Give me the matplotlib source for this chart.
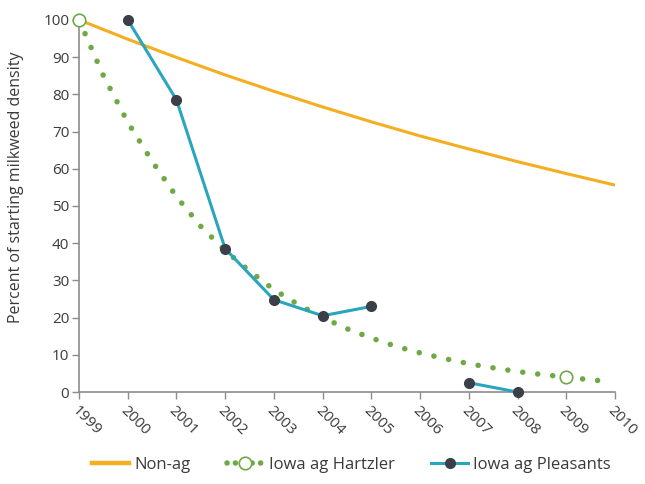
import numpy as np
import matplotlib
matplotlib.use("Agg")
import matplotlib.pyplot as plt
from matplotlib.lines import Line2D

plt.rcParams['font.family'] = ['Open Sans', 'DejaVu Sans']

years = list(range(1999, 2011))
non_ag = [100, 94.8, 89.9, 85.2, 80.8, 76.6, 72.6, 68.8, 65.3, 61.9, 58.7, 55.6]

hartzler_x = [1999, 1999.5, 2000, 2000.5, 2001, 2001.5, 2002, 2002.5, 2003, 2003.5,
              2004, 2004.5, 2005, 2005.5, 2006, 2006.5, 2007, 2007.5, 2008, 2008.5,
              2009, 2009.5, 2009.8]
hartzler_y = [100, 85, 72.5, 62, 52.5, 44.5, 38, 32.5, 27.5, 23.5,
              20, 17, 14.5, 12.3, 10.5, 9, 7.6, 6.5, 5.5, 4.7,
              4, 3.3, 2.9]
hartzler_obs_x = [1999, 2009]
hartzler_obs_y = [100, 4]

pleasants_x = [2000, 2001, 2002, 2003, 2004, 2005, 2006, 2007, 2008]
pleasants_y = [100, 78.5, 38.5, 24.8, 20.5, 23, np.nan, 2.5, 0]

orange = '#F4AE1F'
green = '#6FA946'
teal = '#2AA5BE'
dark = '#3B3F48'
gray = '#8C8C8C'
txt = '#3a3a3a'

fig = plt.figure(figsize=(6.45, 4.84), dpi=100)
ax = fig.add_axes([0.1225, 0.19, 0.831, 0.769])

ax.plot(years, non_ag, color=orange, lw=2.2, solid_capstyle='butt', zorder=2)
ax.plot(hartzler_x, hartzler_y, color=green, lw=4.0, linestyle=(0, (0.01, 2.7)),
        dash_capstyle='round', zorder=3)
ax.plot(hartzler_obs_x, hartzler_obs_y, linestyle='none', marker='o', ms=9,
        mfc='white', mec=green, mew=1.2, zorder=4, clip_on=False)
ax.plot(pleasants_x, pleasants_y, color=teal, lw=2.2, marker='o', ms=7,
        mfc=dark, mec=dark, zorder=5, clip_on=False)

ax.set_xlim(1999, 2010)
ax.set_ylim(0, 100)
ax.set_xticks(years)
ax.set_xticklabels([str(y) for y in years], rotation=-45, ha='left', va='top',
                   rotation_mode='anchor')
ax.set_yticks(range(0, 101, 10))
for s in ['top', 'right']:
    ax.spines[s].set_visible(False)
for s in ['left', 'bottom']:
    ax.spines[s].set_color(gray)
    ax.spines[s].set_linewidth(1.2)
ax.tick_params(axis='both', colors=gray, length=5, width=1, labelcolor=txt,
               labelsize=11)
ax.tick_params(axis='x', pad=3)
ax.tick_params(axis='y', pad=2)
ax.set_ylabel('Percent of starting milkweed density', fontsize=11.5, color=txt)
ax.yaxis.set_label_coords(-0.102, 0.55)

handles = [
    Line2D([], [], color=orange, lw=3.2),
    Line2D([], [], color=green, lw=4.0, linestyle=(0, (0.01, 1.5)), dash_capstyle='round',
           marker='o', ms=9, mfc='white', mec=green, mew=1.2),
    Line2D([], [], color=teal, lw=2.2, marker='o', ms=7, mfc=dark, mec=dark),
]
labels = ['Non-ag', 'Iowa ag Hartzler', 'Iowa ag Pleasants']
fig.legend(handles, labels, loc='center', bbox_to_anchor=(0.545, 0.04), ncol=3,
           frameon=False, fontsize=12, handlelength=2.2, handletextpad=0.3,
           columnspacing=2.2, numpoints=1, labelcolor=txt)

fig.savefig('out.png', dpi=100, facecolor='white')
